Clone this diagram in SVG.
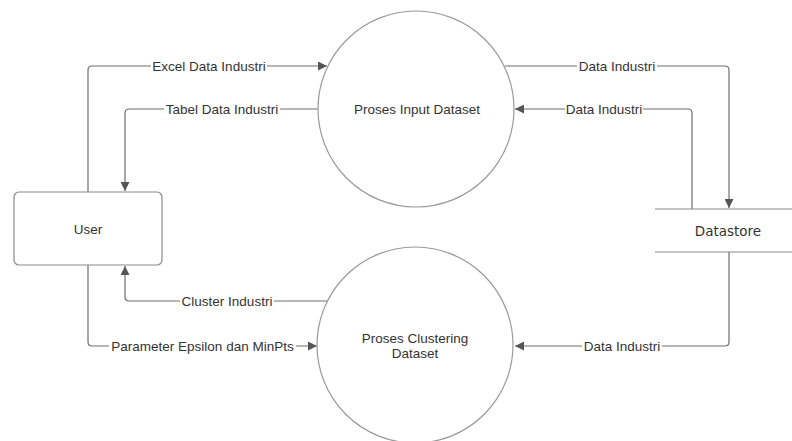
<svg xmlns="http://www.w3.org/2000/svg" width="792" height="441" viewBox="0 0 792 441">
<style>
.bg{fill:#ffffff}
.proc{fill:#ffffff;stroke:#9a9a9a;stroke-width:1.2}
.box{fill:#ffffff;stroke:#8a8a8a;stroke-width:1.2}
.ds{stroke:#8a8a8a;stroke-width:1.2;fill:none}
.edge{fill:none;stroke:#6e6e6e;stroke-width:1.2}
.t{font-family:"Liberation Sans",Arial,sans-serif;font-size:13.5px;fill:#333333;text-anchor:middle;dominant-baseline:central}
.td{font-family:"DejaVu Sans",Verdana,sans-serif;font-size:13.5px;fill:#333333;text-anchor:middle;dominant-baseline:central}
.lbl{fill:#ffffff}
</style>
<defs>
<marker id="arr" viewBox="0 0 10 10" refX="10" refY="5" markerWidth="9" markerHeight="9" markerUnits="userSpaceOnUse" orient="auto">
<path d="M0,0 L10,5 L0,10 Z" fill="#555555"/>
</marker>
</defs>
<rect class="bg" x="0" y="0" width="792" height="441"/>
<g id="connectors">
<path class="edge" d="M88,192 V70 Q88,66 92,66 H327" marker-end="url(#arr)"/>
<path class="edge" d="M318,109 H129 Q125,109 125,113 V191" marker-end="url(#arr)"/>
<path class="edge" d="M505,66 H725 Q729,66 729,70 V208" marker-end="url(#arr)"/>
<path class="edge" d="M692,209 V113 Q692,109 688,109 H515" marker-end="url(#arr)"/>
<path class="edge" d="M729,252 V342 Q729,346 725,346 H515" marker-end="url(#arr)"/>
<path class="edge" d="M327,301 H129 Q125,301 125,297 V266" marker-end="url(#arr)"/>
<path class="edge" d="M88,265 V342 Q88,346 92,346 H317" marker-end="url(#arr)"/>
<rect class="lbl" x="151" y="58" width="116" height="16"/>
<text class="t" x="209" y="66">Excel Data Industri</text>
<rect class="lbl" x="164" y="101" width="116" height="16"/>
<text class="t" x="222" y="109">Tabel Data Industri</text>
<rect class="lbl" x="577" y="58" width="80" height="16"/>
<text class="t" x="617" y="66">Data Industri</text>
<rect class="lbl" x="565" y="101" width="78" height="16"/>
<text class="t" x="604" y="109">Data Industri</text>
<rect class="lbl" x="582" y="338" width="80" height="16"/>
<text class="t" x="622" y="346">Data Industri</text>
<rect class="lbl" x="180" y="293" width="94" height="16"/>
<text class="t" x="227" y="301">Cluster Industri</text>
<rect class="lbl" x="109" y="338" width="187" height="16"/>
<text class="t" x="202.5" y="346">Parameter Epsilon dan MinPts</text>
</g>
<g id="user">
<rect class="box" x="14" y="192" width="148" height="73" rx="5"/>
<text class="t" x="88" y="229">User</text>
</g>
<g id="proses-input">
<circle class="proc" cx="416" cy="109" r="98"/>
<text class="t" x="417" y="109">Proses Input Dataset</text>
</g>
<g id="proses-clustering">
<circle class="proc" cx="415" cy="345" r="98"/>
<text class="t" x="415" y="338">Proses Clustering</text>
<text class="t" x="415" y="353">Dataset</text>
</g>
<g id="datastore">
<line class="ds" x1="655" y1="209" x2="792" y2="209"/>
<line class="ds" x1="655" y1="252" x2="792" y2="252"/>
<text class="td" x="728" y="231">Datastore</text>
</g>
</svg>
